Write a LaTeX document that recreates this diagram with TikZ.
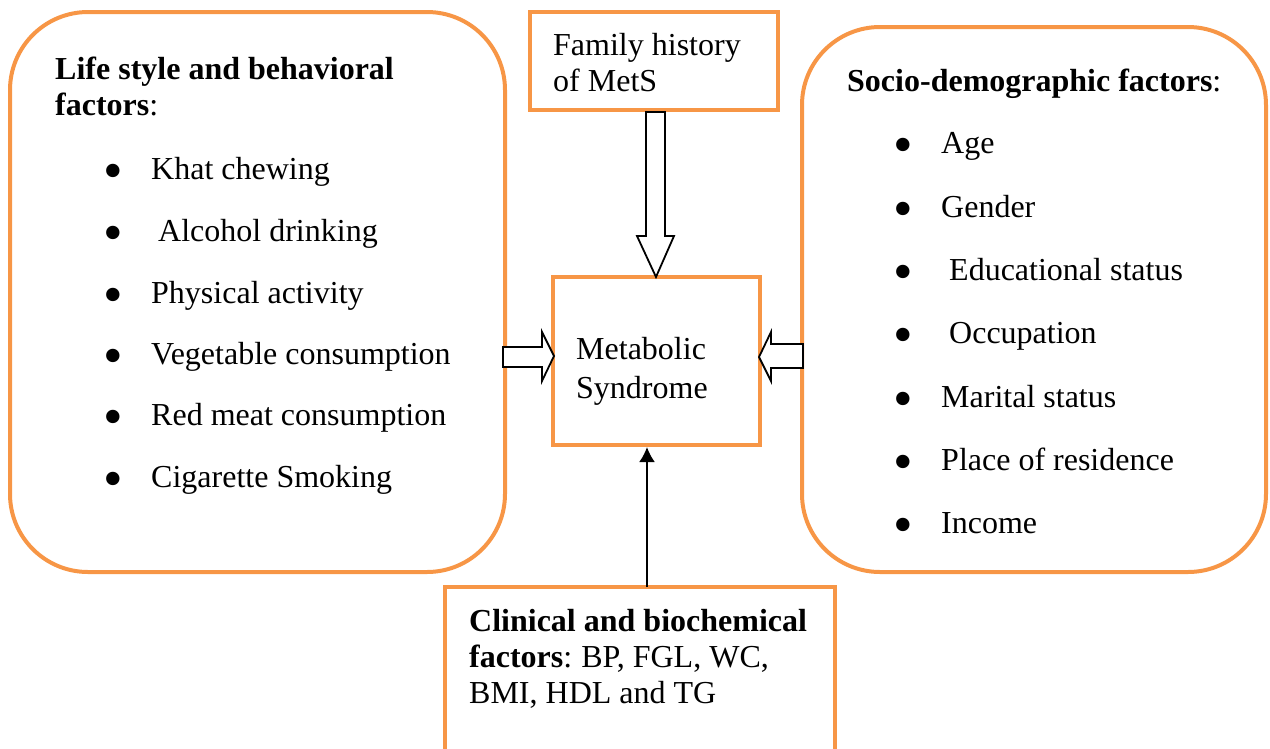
\documentclass[tikz,border=0pt]{standalone}
\usepackage{fontspec}
\setmainfont{Liberation Serif}
\usetikzlibrary{arrows.meta}
\definecolor{orangeframe}{HTML}{F79646}
\begin{document}
\begin{tikzpicture}[x=1pt,y=-1pt,
  frame/.style={draw=orangeframe, line width=4pt, inner sep=0pt},
  txt/.style={anchor=base west, inner sep=0pt, font=\fontsize{32}{36}\selectfont},
  bul/.style={anchor=base, inner sep=0pt, font=\fontsize{56}{56}\selectfont},
  blockarrow/.style={draw=black, line width=1.8pt, fill=white, line join=miter}]
\useasboundingbox (0,0) rectangle (1270,748);

% frames
\node[frame, rounded corners=78pt, minimum width=495pt, minimum height=560pt] (life) at (257.5,292) {};
\node[frame, minimum width=248pt, minimum height=98pt] (fam) at (654,61) {};
\node[frame, rounded corners=78pt, minimum width=464pt, minimum height=545pt] (socio) at (1034,299.5) {};
\node[frame, minimum width=207pt, minimum height=168pt] (met) at (656.5,361) {};
\draw[draw=orangeframe, line width=4pt] (445,760) -- (445,587) -- (835,587) -- (835,760);
\coordinate (clintop) at (647,587);

% life style box text
\node[txt] (l1) at (55,79) {\textbf{Life style and behavioral}};
\node[txt] (l2) at (55,115) {\textbf{factors}:};
\foreach \yy/\tx/\xx [count=\i] in {179/Khat chewing/151, 241/Alcohol drinking/158, 303/Physical activity/151, 364/Vegetable consumption/151, 425/Red meat consumption/151, 487/Cigarette Smoking/151}{
  \node[bul] (lb\i) at (113,\yy+10) {•};
  \node[txt] (lt\i) at (\xx,\yy) {\tx};
}

% family history text
\node[txt] (f1) at (553,55) {Family history};
\node[txt] (f2) at (553,91) {of MetS};

% socio text
\node[txt] (s0) at (847,91) {\textbf{Socio-demographic factors}:};
\foreach \yy/\tx/\xx [count=\i] in {153/Age/941, 217/Gender/941, 280/Educational status/949, 343/Occupation/949, 407/Marital status/941, 470/Place of residence/941, 533/Income/941}{
  \node[bul] (sb\i) at (903,\yy+10) {•};
  \node[txt] (st\i) at (\xx,\yy) {\tx};
}

% metabolic text
\node[txt] (m1) at (576,359) {Metabolic};
\node[txt] (m2) at (576,398) {Syndrome};

% clinical text
\node[txt] (c1) at (469,631) {\textbf{Clinical and biochemical}};
\node[txt] (c2) at (469,667) {\textbf{factors}:\hspace{9pt}BP, FGL, WC,};
\node[txt] (c3) at (469,703) {BMI, HDL and TG};

% block arrows
\draw[blockarrow] (646,112) -- (665,112) -- (665,236) -- (674,236) -- (656,277) -- (637,236) -- (646,236) -- cycle;
\draw[blockarrow] (503,347) -- (542,347) -- (542,332) -- (554,356) -- (542,381) -- (542,367) -- (503,367) -- cycle;
\draw[blockarrow] (803,344) -- (771,344) -- (771,332) -- (759,357) -- (771,381) -- (771,368) -- (803,368) -- cycle;

% thin arrow
\draw[line width=2pt, -{Latex[length=15pt, width=16pt]}] (clintop) -- (clintop |- met.south);
\end{tikzpicture}
\end{document}
